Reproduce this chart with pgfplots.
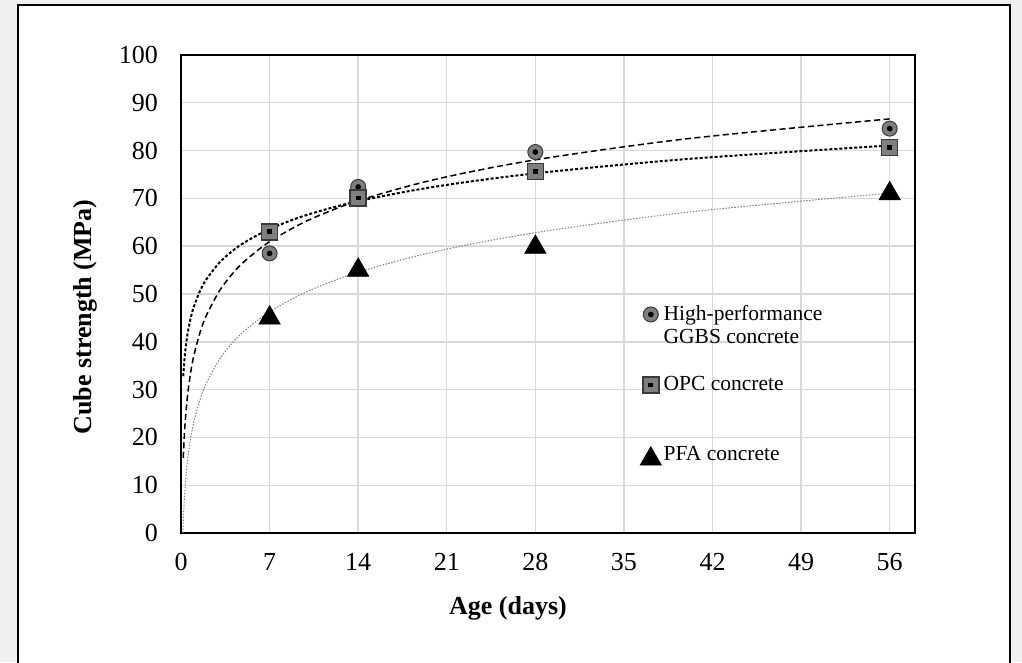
\documentclass[border=0pt]{standalone}
\usepackage{fontspec}
\setmainfont{Liberation Serif}
\usepackage{pgfplots}
\pgfplotsset{compat=1.18}
\definecolor{bg}{HTML}{F0F0F0}
\definecolor{gridc}{HTML}{D9D9D9}
\definecolor{mk}{HTML}{7F7F7F}
\definecolor{mkb}{HTML}{3A3A3A}
\pgfdeclareplotmark{dotcircle}{%
  \pgfpathcircle{\pgfpointorigin}{\pgfplotmarksize}%
  \pgfusepathqfillstroke
  \begin{pgfscope}\pgfsetfillcolor{black}%
  \pgfpathcircle{\pgfpointorigin}{0.38\pgfplotmarksize}\pgfusepathqfill\end{pgfscope}}
\pgfdeclareplotmark{dotsquare}{%
  \pgfpathrectangle{\pgfpoint{-\pgfplotmarksize}{-\pgfplotmarksize}}{\pgfpoint{2\pgfplotmarksize}{2\pgfplotmarksize}}%
  \pgfusepathqfillstroke
  \begin{pgfscope}\pgfsetfillcolor{black}%
  \pgfpathrectangle{\pgfpoint{-0.3\pgfplotmarksize}{-0.3\pgfplotmarksize}}{\pgfpoint{0.6\pgfplotmarksize}{0.6\pgfplotmarksize}}\pgfusepathqfill\end{pgfscope}}
\pgfplotsset{mylegmark/.style={legend image code/.code={\draw[##1] plot coordinates {(0.3cm,#1)};}}}
\begin{document}
\begin{tikzpicture}
\useasboundingbox (0,0) rectangle (1022pt,662pt);
\fill[bg] (0,0) rectangle (1022pt,662pt);
\draw[line width=1.5pt, fill=white] (18pt,-20pt) rectangle (1010pt,657pt);
\begin{axis}[
  at={(181pt,129pt)}, anchor=south west,
  scale only axis, width=734pt, height=478pt,
  xmin=0, xmax=58, ymin=0, ymax=100,
  xtick={0,7,...,56}, ytick={0,10,...,100},
  grid=major, major grid style={gridc, line width=1.4pt},
  axis line style={line width=1.5pt},
  major tick length=0pt,
  /pgf/number format/assume math mode=true,
  tick label style={font=\fontsize{26}{28}\selectfont},
  yticklabel style={anchor=east, inner sep=0pt, xshift=-23pt},
  xticklabel style={anchor=north, inner sep=0pt, yshift=-20pt},
  xlabel={Age (days)}, ylabel={Cube strength (MPa)},
  label style={font=\fontsize{26}{30}\selectfont\bfseries},
  xlabel style={at={(axis description cs:0.4455,-0.158)}, anchor=center, inner sep=0pt},
  ylabel style={at={(axis description cs:-0.130,0.452)}, anchor=center, inner sep=0pt},
  legend style={at={(axis description cs:0.6253,0.4854)}, anchor=north west,
    draw=none, fill=none, inner sep=0pt, outer sep=0pt, row sep=45pt, column sep=2pt,
    font=\fontsize{21.5}{23}\selectfont, cells={anchor=base west},
    nodes={inner sep=0pt, text height=20pt, text depth=5pt}},
]
\addplot[black, line width=1.5pt, dash pattern=on 6pt off 3.5pt, smooth, forget plot] coordinates {
(0.18,15.74)(0.3,22.05)(0.5,28.36)(0.75,33.36)(1,36.92)(1.5,41.92)(2,45.48)(3,50.49)(4,54.04)(5,56.79)(7,60.95)(10,65.36)(14,69.51)(20,73.92)(28,78.07)(40,82.48)(56,86.63)};
\addplot[black, line width=2pt, dash pattern=on 3pt off 2pt, smooth, forget plot] coordinates {
(0.18,32.80)(0.3,37.09)(0.5,41.39)(0.75,44.80)(1,47.22)(1.5,50.63)(2,53.05)(3,56.46)(4,58.88)(5,60.75)(7,63.59)(10,66.59)(14,69.41)(20,72.42)(28,75.24)(40,78.24)(56,81.07)};
\addplot[gray, line width=1pt, dash pattern=on 1.5pt off 1.5pt, smooth, forget plot] coordinates {
(0.145,0)(0.18,2.57)(0.3,8.67)(0.5,14.78)(0.75,19.61)(1,23.05)(1.5,27.89)(2,31.32)(3,36.17)(4,39.60)(5,42.26)(7,46.28)(10,50.55)(14,54.56)(20,58.82)(28,62.83)(40,67.10)(56,71.11)};
\addplot[only marks, mark=dotcircle, mark size=7.5pt, mark options={fill=mk, draw=mkb, line width=1pt}, mylegmark=6.5pt]
 coordinates {(7,58.5)(14,72.4)(28,79.7)(56,84.6)};
\addlegendentry{\begin{tabular}[t]{@{}l@{}}High-performance\\GGBS concrete\end{tabular}}
\addplot[only marks, mark=dotsquare, mark size=8pt, mark options={fill=mk, draw=mkb, line width=1.5pt}, mylegmark=6pt]
 coordinates {(7,63.0)(14,70.1)(28,75.6)(56,80.6)};
\addlegendentry{OPC concrete}
\addplot[only marks, mark=triangle*, mark size=12.5pt, mark options={fill=black, draw=black}, mylegmark=2pt]
 coordinates {(7,45.0)(14,55.0)(28,59.8)(56,71.0)};
\addlegendentry{PFA concrete}
\end{axis}
\end{tikzpicture}
\end{document}
